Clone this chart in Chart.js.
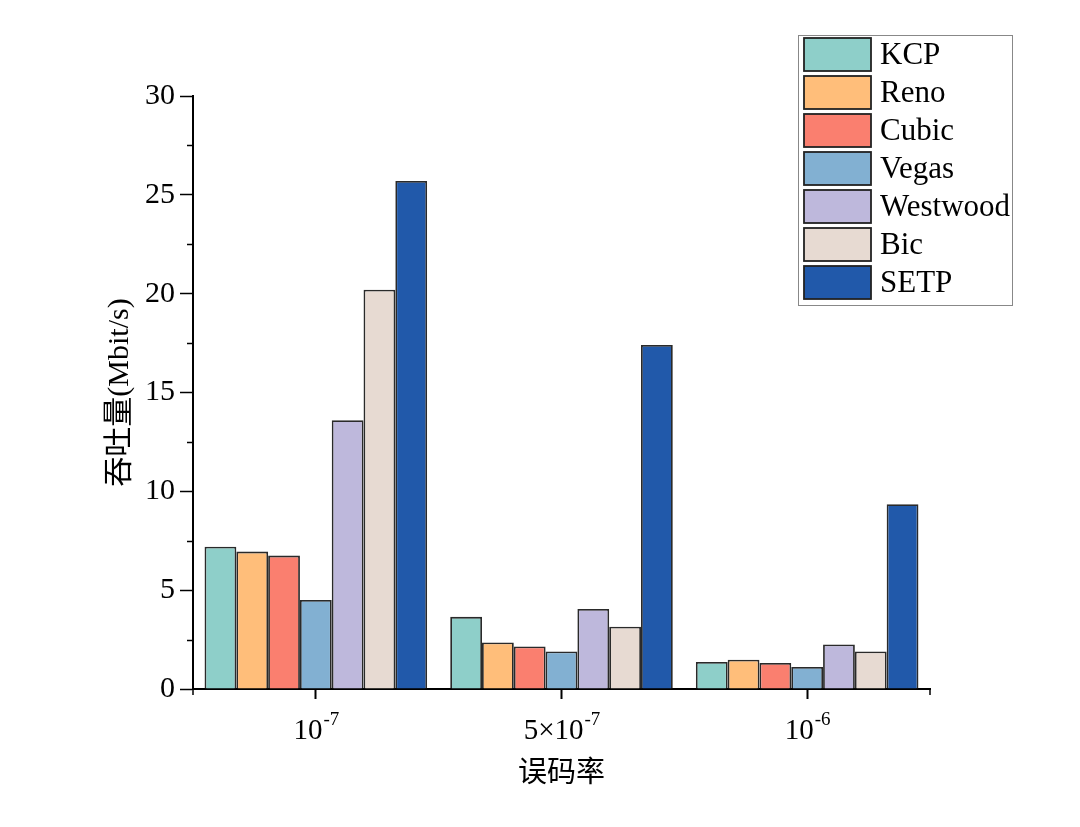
<!DOCTYPE html>
<html>
<head>
<meta charset="utf-8">
<script src="https://cdn.jsdelivr.net/npm/chart.js@4"></script>
<style>
html,body{margin:0;padding:0;background:#fff;}
#wrap{width:1080px;height:827px;position:relative;}
</style>
</head>
<body>
<div id="wrap"><canvas id="c" width="1080" height="827"></canvas></div>
<script>
// ---- data ----
const categories = ['10^-7', '5×10^-7', '10^-6'];
const tickBase = ['10', '5×10', '10'];
const tickExp = ['-7', '-7', '-6'];
const seriesNames = ['KCP', 'Reno', 'Cubic', 'Vegas', 'Westwood', 'Bic', 'SETP'];
const KCP = [7.2, 3.65, 1.37];
const Reno = [6.95, 2.35, 1.48];
const Cubic = [6.75, 2.15, 1.32];
const Vegas = [4.5, 1.9, 1.11];
const Westwood = [13.6, 4.05, 2.25];
const Bic = [20.2, 3.15, 1.9];
const SETP = [25.7, 17.4, 9.35];
const yTicks = [0, 5, 10, 15, 20, 25, 30];
const yMinorTicks = [2.5, 7.5, 12.5, 17.5, 22.5, 27.5];
const yTitle = '吞吐量(Mbit/s)';
const xTitle = '误码率';
const colors = ['#8ECFC9', '#FFBE7A', '#FA7F6F', '#82B0D2', '#BEB8DC', '#E7DAD2', '#2159AA'];

const seriesValues = [KCP, Reno, Cubic, Vegas, Westwood, Bic, SETP];
const SERIF = '"Liberation Serif", "Times New Roman", serif';
const CJK = '"Liberation Serif", "Noto Sans CJK SC", serif';

const decorPlugin = {
  id: 'decor',
  afterDraw(chart) {
    const ctx = chart.ctx;
    const x = chart.scales.x, y = chart.scales.y;
    const area = chart.chartArea;
    ctx.save();
    // minor y ticks
    ctx.strokeStyle = '#000';
    ctx.lineWidth = 1.5;
    yMinorTicks.forEach(v => {
      const py = Math.round(y.getPixelForValue(v)) + 0.5;
      ctx.beginPath(); ctx.moveTo(area.left - 6, py); ctx.lineTo(area.left, py); ctx.stroke();
    });
    // x end ticks
    [area.left, area.right].forEach(px => {
      ctx.beginPath(); ctx.moveTo(px, area.bottom); ctx.lineTo(px, area.bottom + 6); ctx.stroke();
    });
    // x tick labels with superscript
    ctx.fillStyle = '#000';
    ctx.textBaseline = 'alphabetic';
    categories.forEach((c, i) => {
      const cx = x.getPixelForValue(i);
      ctx.font = '29px ' + SERIF;
      const bw = ctx.measureText(tickBase[i]).width;
      ctx.font = '19px ' + SERIF;
      const ew = ctx.measureText(tickExp[i]).width;
      const left = cx - (bw + ew) / 2;
      ctx.font = '29px ' + SERIF;
      ctx.textAlign = 'left';
      ctx.fillText(tickBase[i], left, 739);
      ctx.font = '19px ' + SERIF;
      ctx.fillText(tickExp[i], left + bw + 1, 725);
    });
    // x title
    ctx.font = '29px ' + CJK;
    ctx.textAlign = 'center';
    ctx.textBaseline = 'middle';
    ctx.fillText(xTitle, (area.left + area.right) / 2, 774);
    // y title
    ctx.save();
    ctx.translate(120, (area.top + area.bottom) / 2);
    ctx.rotate(-Math.PI / 2);
    ctx.font = '30px ' + CJK;
    ctx.fillText(yTitle, 0, 0);
    ctx.restore();
    // legend
    const lx = 798, ly = 35, lw = 214, lh = 270;
    ctx.fillStyle = '#fff';
    ctx.fillRect(lx, ly, lw, lh);
    ctx.strokeStyle = '#888';
    ctx.lineWidth = 1;
    ctx.strokeRect(lx + 0.5, ly + 0.5, lw, lh);
    chart.data.datasets.forEach((ds, i) => {
      const sy = 38 + i * 38;
      ctx.fillStyle = ds.backgroundColor;
      ctx.fillRect(804, sy, 67, 33);
      ctx.strokeStyle = '#222';
      ctx.lineWidth = 1.8;
      ctx.strokeRect(804, sy, 67, 33);
      ctx.fillStyle = '#000';
      ctx.font = '31px ' + SERIF;
      ctx.textAlign = 'left';
      ctx.textBaseline = 'middle';
      ctx.fillText(ds.label, 880, sy + 18);
    });
    ctx.restore();
  }
};

new Chart(document.getElementById('c'), {
  type: 'bar',
  data: {
    labels: categories,
    datasets: seriesNames.map((n, i) => ({
      label: n,
      data: seriesValues[i],
      backgroundColor: colors[i],
      borderColor: '#2a2a2a',
      borderWidth: 1.8,
      borderSkipped: 'bottom'
    }))
  },
  options: {
    responsive: false,
    animation: false,
    devicePixelRatio: 1,
    layout: { autoPadding: false, padding: { top: 96, right: 150, left: 0, bottom: 0 } },
    plugins: { legend: { display: false }, tooltip: { enabled: false }, title: { display: false } },
    datasets: { bar: { categoryPercentage: 0.906, barPercentage: 1.0 } },
    scales: {
      x: {
        type: 'category',
        offset: true,
        grid: { display: true, drawOnChartArea: false, drawTicks: true, tickLength: 10, tickColor: '#000', tickWidth: 2, offset: false },
        border: { display: true, color: '#000', width: 2 },
        ticks: { display: false },
        afterFit(s) { s.height = 138; }
      },
      y: {
        min: 0, max: 30,
        afterBuildTicks(s) { s.ticks = yTicks.map(v => ({ value: v })); },
        grid: { display: true, drawOnChartArea: false, drawTicks: true, tickLength: 13, tickColor: '#000', tickWidth: 1.5 },
        border: { display: true, color: '#000', width: 2 },
        ticks: { color: '#000', font: { family: SERIF, size: 30 }, padding: 5 },
        afterFit(s) { s.width = 193; }
      }
    }
  },
  plugins: [decorPlugin]
});
</script>
</body>
</html>
